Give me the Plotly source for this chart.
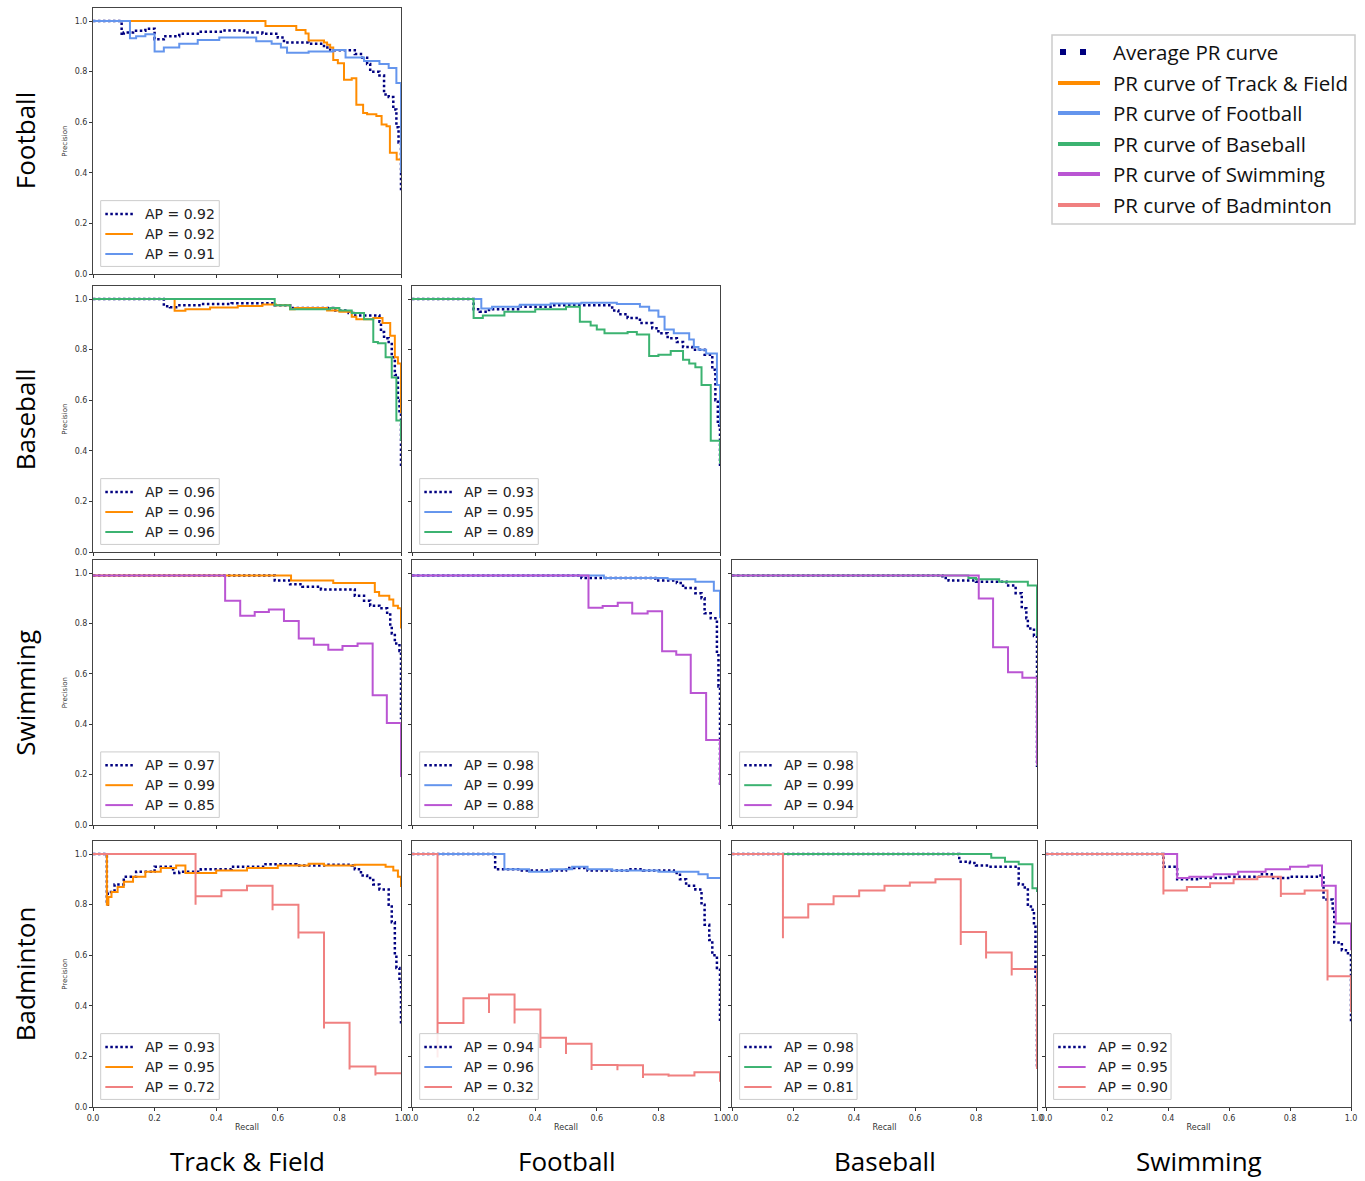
import plotly.graph_objects as go

W, H = 1365, 1181

ROW_LABELS = ["Football", "Baseball", "Swimming", "Badminton"]
COL_LABELS = ["Track & Field", "Football", "Baseball", "Swimming"]
LEGEND_NAMES = ["Average PR curve", "PR curve of Track & Field", "PR curve of Football",
                "PR curve of Baseball", "PR curve of Swimming", "PR curve of Badminton"]
TICKS = [0.0, 0.2, 0.4, 0.6, 0.8, 1.0]

# ---------------- data (recall breakpoints, precision values; step curves) ----------------
# Football row / Track & Field column
fb_tf_avg_r = [0, 0.093, 0.10, 0.13, 0.17, 0.2, 0.23, 0.28, 0.35, 0.42, 0.49, 0.55, 0.60, 0.62, 0.70, 0.75, 0.77, 0.85, 0.87, 0.89, 0.90, 0.93, 0.945, 0.96, 0.975, 0.985, 0.992, 1.0]
fb_tf_avg_p = [1.0, 0.945, 0.955, 0.962, 0.97, 0.928, 0.94, 0.95, 0.958, 0.963, 0.955, 0.95, 0.935, 0.915, 0.91, 0.895, 0.885, 0.87, 0.855, 0.83, 0.80, 0.785, 0.71, 0.70, 0.65, 0.58, 0.52, 0.33]
fb_tf_tf_r = [0, 0.56, 0.66, 0.69, 0.70, 0.75, 0.76, 0.77, 0.78, 0.795, 0.815, 0.84, 0.855, 0.877, 0.89, 0.92, 0.937, 0.953, 0.964, 0.986, 1.0]
fb_tf_tf_p = [1.0, 0.98, 0.965, 0.951, 0.923, 0.915, 0.906, 0.895, 0.846, 0.833, 0.768, 0.774, 0.669, 0.636, 0.632, 0.625, 0.591, 0.584, 0.479, 0.453, 0.42]
fb_tf_fb_r = [0, 0.12, 0.14, 0.17, 0.2, 0.23, 0.28, 0.34, 0.41, 0.488, 0.53, 0.58, 0.61, 0.63, 0.70, 0.78, 0.82, 0.88, 0.93, 0.96, 0.985, 1.0]
fb_tf_fb_p = [1.0, 0.932, 0.94, 0.948, 0.88, 0.895, 0.91, 0.925, 0.935, 0.935, 0.92, 0.91, 0.895, 0.875, 0.88, 0.886, 0.856, 0.842, 0.83, 0.814, 0.755, 0.40]

# Baseball row / Track & Field column
bb_tf_avg_r = [0, 0.23, 0.25, 0.27, 0.35, 0.45, 0.59, 0.64, 0.78, 0.83, 0.845, 0.93, 0.935, 0.945, 0.96, 0.97, 0.98, 0.99, 0.995, 1.0]
bb_tf_avg_p = [1.0, 0.972, 0.968, 0.975, 0.98, 0.983, 0.975, 0.965, 0.955, 0.945, 0.935, 0.91, 0.87, 0.845, 0.83, 0.77, 0.70, 0.60, 0.55, 0.33]
bb_tf_tf_r = [0, 0.265, 0.30, 0.38, 0.47, 0.55, 0.594, 0.64, 0.655, 0.76, 0.80, 0.84, 0.855, 0.91, 0.94, 0.965, 0.98, 0.99, 1.0]
bb_tf_tf_p = [1.0, 0.954, 0.96, 0.967, 0.973, 0.978, 0.975, 0.96, 0.965, 0.955, 0.95, 0.93, 0.92, 0.925, 0.905, 0.855, 0.77, 0.745, 0.55]
bb_tf_bb_r = [0, 0.59, 0.64, 0.77, 0.80, 0.84, 0.88, 0.91, 0.925, 0.95, 0.97, 0.985, 1.0]
bb_tf_bb_p = [1.0, 0.975, 0.96, 0.965, 0.955, 0.945, 0.92, 0.83, 0.825, 0.77, 0.69, 0.52, 0.44]

# Baseball row / Football column
bb_fb_avg_r = [0, 0.2, 0.22, 0.25, 0.35, 0.45, 0.59, 0.65, 0.67, 0.70, 0.74, 0.78, 0.80, 0.83, 0.86, 0.88, 0.91, 0.95, 0.975, 0.985, 0.993, 1.0]
bb_fb_avg_p = [1.0, 0.96, 0.95, 0.96, 0.97, 0.975, 0.975, 0.955, 0.94, 0.925, 0.905, 0.885, 0.865, 0.845, 0.83, 0.81, 0.80, 0.78, 0.72, 0.60, 0.50, 0.33]
bb_fb_fb_r = [0, 0.225, 0.26, 0.35, 0.45, 0.55, 0.665, 0.74, 0.77, 0.80, 0.82, 0.85, 0.90, 0.915, 0.93, 0.955, 0.99, 1.0]
bb_fb_fb_p = [1.0, 0.963, 0.97, 0.977, 0.982, 0.985, 0.98, 0.97, 0.955, 0.93, 0.88, 0.865, 0.84, 0.81, 0.80, 0.785, 0.66, 0.50]
bb_fb_bb_r = [0, 0.2, 0.23, 0.30, 0.40, 0.50, 0.545, 0.58, 0.60, 0.625, 0.70, 0.73, 0.77, 0.80, 0.84, 0.88, 0.90, 0.92, 0.94, 0.97, 1.0]
bb_fb_bb_p = [1.0, 0.925, 0.935, 0.95, 0.96, 0.97, 0.91, 0.895, 0.88, 0.865, 0.87, 0.86, 0.775, 0.78, 0.795, 0.76, 0.745, 0.73, 0.66, 0.44, 0.35]

# Swimming row / Track & Field column
sw_tf_avg_r = [0, 0.59, 0.64, 0.68, 0.74, 0.85, 0.88, 0.90, 0.93, 0.955, 0.965, 0.97, 0.98, 0.995, 1.0]
sw_tf_avg_p = [0.99, 0.97, 0.955, 0.945, 0.935, 0.91, 0.89, 0.87, 0.86, 0.835, 0.79, 0.76, 0.72, 0.69, 0.42]
sw_tf_tf_r = [0, 0.643, 0.78, 0.915, 0.929, 0.962, 0.975, 0.99, 1.0]
sw_tf_tf_p = [0.99, 0.97, 0.96, 0.925, 0.91, 0.895, 0.87, 0.86, 0.78]
sw_tf_sw_r = [0, 0.429, 0.478, 0.525, 0.571, 0.62, 0.668, 0.717, 0.764, 0.81, 0.859, 0.908, 0.954, 1.0]
sw_tf_sw_p = [0.99, 0.89, 0.83, 0.845, 0.855, 0.81, 0.74, 0.715, 0.695, 0.71, 0.72, 0.515, 0.405, 0.19]

# Swimming row / Football column
sw_fb_avg_r = [0, 0.55, 0.79, 0.86, 0.88, 0.92, 0.94, 0.95, 0.97, 0.99, 0.995, 1.0]
sw_fb_avg_p = [0.99, 0.98, 0.97, 0.96, 0.94, 0.92, 0.90, 0.84, 0.82, 0.68, 0.55, 0.16]
sw_fb_fb_r = [0, 0.623, 0.83, 0.92, 0.98, 1.0]
sw_fb_fb_p = [0.99, 0.98, 0.975, 0.965, 0.93, 0.82]
sw_fb_sw_r = [0, 0.573, 0.619, 0.668, 0.715, 0.765, 0.812, 0.858, 0.905, 0.955, 1.0]
sw_fb_sw_p = [0.99, 0.862, 0.869, 0.882, 0.839, 0.848, 0.689, 0.676, 0.524, 0.337, 0.16]

# Swimming row / Baseball column
sw_bb_avg_r = [0, 0.69, 0.71, 0.80, 0.90, 0.93, 0.95, 0.965, 0.97, 0.99, 1.0]
sw_bb_avg_p = [0.99, 0.98, 0.97, 0.965, 0.95, 0.92, 0.86, 0.82, 0.78, 0.75, 0.23]
sw_bb_bb_r = [0, 0.775, 0.80, 0.876, 0.97, 1.0]
sw_bb_bb_p = [0.99, 0.98, 0.975, 0.965, 0.95, 0.75]
sw_bb_sw_r = [0, 0.809, 0.856, 0.905, 0.952, 1.0]
sw_bb_sw_p = [0.99, 0.899, 0.705, 0.606, 0.584, 0.239]

# Badminton row / Track & Field column
bd_tf_avg_r = [0, 0.045, 0.048, 0.07, 0.10, 0.14, 0.20, 0.26, 0.28, 0.35, 0.45, 0.56, 0.66, 0.75, 0.84, 0.85, 0.87, 0.89, 0.91, 0.93, 0.96, 0.97, 0.98, 0.985, 0.995, 1.0]
bd_tf_avg_p = [1.0, 0.80, 0.85, 0.88, 0.91, 0.93, 0.95, 0.925, 0.93, 0.94, 0.95, 0.96, 0.955, 0.958, 0.955, 0.94, 0.915, 0.905, 0.88, 0.86, 0.80, 0.73, 0.60, 0.55, 0.50, 0.33]
bd_tf_tf_r = [0, 0.045, 0.05, 0.06, 0.08, 0.10, 0.13, 0.17, 0.22, 0.27, 0.30, 0.40, 0.50, 0.60, 0.70, 0.75, 0.85, 0.95, 0.975, 0.99, 1.0]
bd_tf_tf_p = [1.0, 0.80, 0.83, 0.85, 0.87, 0.89, 0.91, 0.93, 0.945, 0.955, 0.925, 0.935, 0.945, 0.955, 0.962, 0.955, 0.958, 0.95, 0.935, 0.91, 0.87]
bd_tf_bd_r = [0, 0.333, 0.333, 0.417, 0.5, 0.583, 0.583, 0.667, 0.667, 0.75, 0.75, 0.833, 0.833, 0.917, 0.917, 1.0]
bd_tf_bd_p = [1.0, 0.80, 0.833, 0.857, 0.875, 0.778, 0.80, 0.666, 0.69, 0.31, 0.333, 0.148, 0.16, 0.125, 0.133, 0.133]

# Badminton row / Football column
bd_fb_avg_r = [0, 0.27, 0.35, 0.50, 0.57, 0.70, 0.75, 0.85, 0.87, 0.89, 0.92, 0.94, 0.95, 0.965, 0.975, 0.99, 1.0]
bd_fb_avg_p = [1.0, 0.94, 0.935, 0.945, 0.935, 0.94, 0.935, 0.925, 0.90, 0.875, 0.86, 0.80, 0.72, 0.66, 0.60, 0.55, 0.33]
bd_fb_fb_r = [0, 0.30, 0.38, 0.45, 0.52, 0.57, 0.65, 0.80, 0.93, 0.96, 1.0]
bd_fb_fb_p = [1.0, 0.94, 0.93, 0.94, 0.95, 0.94, 0.935, 0.93, 0.92, 0.905, 0.905]
bd_fb_bd_r = [0, 0.083, 0.083, 0.167, 0.25, 0.25, 0.333, 0.333, 0.417, 0.417, 0.5, 0.5, 0.583, 0.583, 0.667, 0.667, 0.75, 0.75, 0.833, 0.833, 0.917, 1.0]
bd_fb_bd_p = [1.0, 0.196, 0.332, 0.43, 0.372, 0.445, 0.33, 0.385, 0.233, 0.274, 0.21, 0.25, 0.146, 0.166, 0.145, 0.165, 0.115, 0.128, 0.12, 0.125, 0.137, 0.10]

# Badminton row / Baseball column
bd_bb_avg_r = [0, 0.745, 0.78, 0.80, 0.84, 0.94, 0.96, 0.97, 0.98, 0.99, 0.995, 1.0]
bd_bb_avg_p = [1.0, 0.97, 0.965, 0.955, 0.95, 0.88, 0.86, 0.80, 0.78, 0.72, 0.50, 0.15]
bd_bb_bb_r = [0, 0.85, 0.895, 0.94, 0.985, 1.0]
bd_bb_bb_p = [1.0, 0.985, 0.97, 0.96, 0.865, 0.85]
bd_bb_bd_r = [0, 0.167, 0.167, 0.25, 0.333, 0.417, 0.5, 0.583, 0.667, 0.75, 0.75, 0.833, 0.833, 0.917, 0.917, 1.0]
bd_bb_bd_p = [1.0, 0.667, 0.749, 0.802, 0.833, 0.856, 0.875, 0.888, 0.90, 0.64, 0.692, 0.587, 0.611, 0.52, 0.546, 0.15]

# Badminton row / Swimming column
bd_sw_avg_r = [0, 0.385, 0.43, 0.50, 0.60, 0.70, 0.74, 0.80, 0.90, 0.91, 0.94, 0.945, 0.97, 0.99, 1.0]
bd_sw_avg_p = [1.0, 0.95, 0.90, 0.905, 0.91, 0.92, 0.905, 0.91, 0.915, 0.82, 0.78, 0.65, 0.62, 0.60, 0.33]
bd_sw_sw_r = [0, 0.43, 0.47, 0.55, 0.63, 0.72, 0.80, 0.86, 0.905, 0.95, 1.0]
bd_sw_sw_p = [1.0, 0.905, 0.91, 0.92, 0.93, 0.94, 0.95, 0.955, 0.875, 0.725, 0.62]
bd_sw_bd_r = [0, 0.385, 0.385, 0.462, 0.538, 0.615, 0.693, 0.77, 0.77, 0.848, 0.923, 0.923, 1.0]
bd_sw_bd_p = [1.0, 0.84, 0.856, 0.87, 0.885, 0.90, 0.91, 0.83, 0.843, 0.856, 0.50, 0.517, 0.376]

# AP values per panel (average, column class, row class)
ap_fb_tf = [0.92, 0.92, 0.91]
ap_bb_tf = [0.96, 0.96, 0.96]
ap_bb_fb = [0.93, 0.95, 0.89]
ap_sw_tf = [0.97, 0.99, 0.85]
ap_sw_fb = [0.98, 0.99, 0.88]
ap_sw_bb = [0.98, 0.99, 0.94]
ap_bd_tf = [0.93, 0.95, 0.72]
ap_bd_fb = [0.94, 0.96, 0.32]
ap_bd_bb = [0.98, 0.99, 0.81]
ap_bd_sw = [0.92, 0.95, 0.90]

# ---------------- styling ----------------
C_AVG = "#000080"
CLASS_COLORS = {"tf": "#FF8C00", "fb": "#6495ED", "bb": "#3CB371", "sw": "#BA55D3", "bd": "#F08080"}
COL_KEYS = ["tf", "fb", "bb", "sw"]
ROW_KEYS = ["fb", "bb", "sw", "bd"]

panels = [
    (0, 0, (fb_tf_avg_r, fb_tf_avg_p), (fb_tf_tf_r, fb_tf_tf_p), (fb_tf_fb_r, fb_tf_fb_p), ap_fb_tf),
    (1, 0, (bb_tf_avg_r, bb_tf_avg_p), (bb_tf_tf_r, bb_tf_tf_p), (bb_tf_bb_r, bb_tf_bb_p), ap_bb_tf),
    (1, 1, (bb_fb_avg_r, bb_fb_avg_p), (bb_fb_fb_r, bb_fb_fb_p), (bb_fb_bb_r, bb_fb_bb_p), ap_bb_fb),
    (2, 0, (sw_tf_avg_r, sw_tf_avg_p), (sw_tf_tf_r, sw_tf_tf_p), (sw_tf_sw_r, sw_tf_sw_p), ap_sw_tf),
    (2, 1, (sw_fb_avg_r, sw_fb_avg_p), (sw_fb_fb_r, sw_fb_fb_p), (sw_fb_sw_r, sw_fb_sw_p), ap_sw_fb),
    (2, 2, (sw_bb_avg_r, sw_bb_avg_p), (sw_bb_bb_r, sw_bb_bb_p), (sw_bb_sw_r, sw_bb_sw_p), ap_sw_bb),
    (3, 0, (bd_tf_avg_r, bd_tf_avg_p), (bd_tf_tf_r, bd_tf_tf_p), (bd_tf_bd_r, bd_tf_bd_p), ap_bd_tf),
    (3, 1, (bd_fb_avg_r, bd_fb_avg_p), (bd_fb_fb_r, bd_fb_fb_p), (bd_fb_bd_r, bd_fb_bd_p), ap_bd_fb),
    (3, 2, (bd_bb_avg_r, bd_bb_avg_p), (bd_bb_bb_r, bd_bb_bb_p), (bd_bb_bd_r, bd_bb_bd_p), ap_bd_bb),
    (3, 3, (bd_sw_avg_r, bd_sw_avg_p), (bd_sw_sw_r, bd_sw_sw_p), (bd_sw_bd_r, bd_sw_bd_p), ap_bd_sw),
]

# pixel geometry of the panels
COL_PX = [(93, 401), (412, 720), (732, 1037), (1046, 1351)]
ROW_PX = [(8.4, 274), (286.4, 552), (560.4, 825), (841.4, 1107)]

fig = go.Figure()
layout = dict(width=W, height=H, margin=dict(l=0, r=0, t=0, b=0, autoexpand=False),
              paper_bgcolor="white", plot_bgcolor="white", showlegend=False)
shapes, annos = [], []

TICKFONT = dict(family="DejaVu Sans", size=8, color="#333333")
LEGFONT = dict(family="DejaVu Sans", size=14, color="#222222")

for i, (row, col, avg, ca, cb, ap) in enumerate(panels, start=1):
    xn = "x" if i == 1 else f"x{i}"
    yn = "y" if i == 1 else f"y{i}"
    xk = "xaxis" if i == 1 else f"xaxis{i}"
    yk = "yaxis" if i == 1 else f"yaxis{i}"
    x0, x1 = COL_PX[col]
    yt, yb = ROW_PX[row]
    bottom = row == 3
    left = col == 0
    layout[xk] = dict(domain=[x0 / W, x1 / W], range=[0, 1], anchor=yn, automargin=False,
                      tickvals=TICKS, tickformat=".1f", ticks="outside", ticklen=3,
                      tickcolor="#333", showticklabels=bottom, tickfont=TICKFONT,
                      showline=True, linecolor="#444", linewidth=1, mirror=True,
                      showgrid=False, zeroline=False,
                      title=dict(text="Recall" if bottom else "", font=dict(family="DejaVu Sans", size=8, color="#333"), standoff=2))
    layout[yk] = dict(domain=[1 - yb / H, 1 - yt / H], range=[0, 1.05], anchor=xn, automargin=False,
                      tickvals=TICKS, tickformat=".1f", ticks="outside", ticklen=3,
                      tickcolor="#333", showticklabels=left, tickfont=TICKFONT,
                      showline=True, linecolor="#444", linewidth=1, mirror=True,
                      showgrid=False, zeroline=False,
                      title=dict(text="Precision" if left else "", font=dict(family="DejaVu Sans", size=7, color="#333"), standoff=6))

    ca_color = CLASS_COLORS[COL_KEYS[col]]
    cb_color = CLASS_COLORS[ROW_KEYS[row]]
    fig.add_trace(go.Scatter(x=avg[0], y=avg[1], mode="lines", line_shape="hv",
                             line=dict(color=C_AVG, width=2.5, dash="2.5px,2.5px"),
                             xaxis=xn, yaxis=yn, hoverinfo="skip"))
    fig.add_trace(go.Scatter(x=ca[0], y=ca[1], mode="lines", line_shape="hv",
                             line=dict(color=ca_color, width=2), xaxis=xn, yaxis=yn, hoverinfo="skip"))
    fig.add_trace(go.Scatter(x=cb[0], y=cb[1], mode="lines", line_shape="hv",
                             line=dict(color=cb_color, width=2), xaxis=xn, yaxis=yn, hoverinfo="skip"))

    # in-panel legend
    shapes.append(dict(type="rect", xref=xn, yref=yn, x0=0.025, x1=0.41, y0=0.03, y1=0.29,
                       fillcolor="rgba(255,255,255,0.85)", line=dict(color="#cccccc", width=1)))
    for k, (yy, colr, v) in enumerate(zip([0.237, 0.158, 0.079], [C_AVG, ca_color, cb_color], ap)):
        shapes.append(dict(type="line", xref=xn, yref=yn, x0=0.04, x1=0.13, y0=yy, y1=yy,
                           line=dict(color=colr, width=2.5 if k == 0 else 2,
                                     dash="2.5px,2.5px" if k == 0 else "solid")))
        annos.append(dict(xref=xn, yref=yn, x=0.163, y=yy, text=f"AP = {v:.2f}",
                          showarrow=False, xanchor="left", yanchor="middle", font=LEGFONT))

# global legend
def px(x):
    return x / W

def py(y):
    return 1 - y / H

shapes.append(dict(type="rect", xref="paper", yref="paper", x0=px(1052), x1=px(1355),
                   y0=py(224), y1=py(35), fillcolor="white", line=dict(color="#cccccc", width=1.5)))
leg_colors = [C_AVG, CLASS_COLORS["tf"], CLASS_COLORS["fb"], CLASS_COLORS["bb"], CLASS_COLORS["sw"], CLASS_COLORS["bd"]]
leg_y = [52, 83, 113, 144, 174, 205]
for k, (name, colr, yy) in enumerate(zip(LEGEND_NAMES, leg_colors, leg_y)):
    if k == 0:
        shapes.append(dict(type="line", xref="paper", yref="paper", x0=px(1060), x1=px(1092),
                           y0=py(yy), y1=py(yy), line=dict(color=colr, width=6, dash="6px,14px")))
    else:
        shapes.append(dict(type="line", xref="paper", yref="paper", x0=px(1058), x1=px(1100),
                           y0=py(yy), y1=py(yy), line=dict(color=colr, width=4)))
    annos.append(dict(xref="paper", yref="paper", x=px(1111), y=py(yy), text=name, showarrow=False,
                      xanchor="left", yanchor="middle",
                      font=dict(family="Open Sans", size=20.5, color="#111111")))

# row labels
for r, lab in enumerate(ROW_LABELS):
    yt, yb = ROW_PX[r]
    annos.append(dict(xref="paper", yref="paper", x=px(25), y=py((yt + yb) / 2), text=lab,
                      showarrow=False, textangle=-90, xanchor="center", yanchor="middle",
                      font=dict(family="Open Sans", size=26, color="black")))
# column labels
for c, lab in enumerate(COL_LABELS):
    x0, x1 = COL_PX[c]
    annos.append(dict(xref="paper", yref="paper", x=px((x0 + x1) / 2), y=py(1161), text=lab,
                      showarrow=False, xanchor="center", yanchor="middle",
                      font=dict(family="Open Sans", size=26, color="black")))

layout["shapes"] = shapes
layout["annotations"] = annos
fig.update_layout(**layout)
fig.write_html("out.html", config={"displayModeBar": False},
               post_script="document.body.style.margin='0';document.body.style.padding='0';")
